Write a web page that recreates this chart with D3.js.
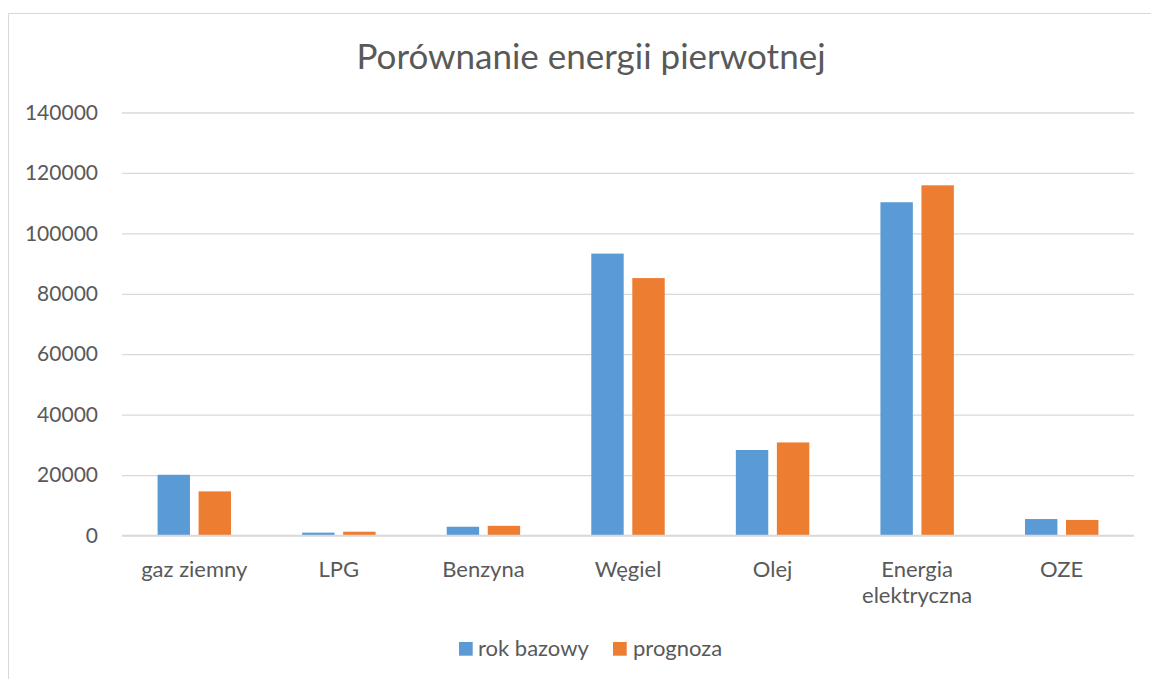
<!DOCTYPE html>
<html>
<head>
<meta charset="utf-8">
<script src="https://cdn.jsdelivr.net/npm/d3@7/dist/d3.min.js"></script>
<style>
  html, body { margin: 0; padding: 0; background: #fff; }
  svg { display: block; font-family: Lato, "Open Sans", sans-serif; }
</style>
</head>
<body>
<svg id="chart" width="1151" height="679"></svg>
<script>
// Primary energy use per carrier: base year vs. forecast
const categories = ["gaz ziemny", "LPG", "Benzyna", "Węgiel", "Olej", "Energia elektryczna", "OZE"];
const seriesNames = ["rok bazowy", "prognoza"];
const rokBazowy = [20100, 950, 2900, 93300, 28300, 110300, 5450];
const prognoza  = [14600, 1250, 3200, 85200, 30800, 115900, 5150];
const yTicks = [0, 20000, 40000, 60000, 80000, 100000, 120000, 140000];
const colors = ["#5B9BD5", "#ED7D31"];

const svg = d3.select("#chart");
const W = 1151, H = 679;
const textColor = "#595959";

// chart frame
svg.append("rect")
  .attr("x", 8.5).attr("y", 13.5)
  .attr("width", W + 20).attr("height", H + 20)
  .attr("fill", "#fff").attr("stroke", "#D9D9D9").attr("stroke-width", 1);

const plot = { left: 122, right: 1134, top: 112.5, bottom: 535.5 };

const y = d3.scaleLinear().domain([0, 140000]).range([plot.bottom, plot.top]);
const x0 = d3.scaleBand().domain(categories)
  .range([plot.left, plot.right]).paddingInner(0.492).paddingOuter(0.246);
const x1 = d3.scaleBand().domain(seriesNames)
  .range([0, x0.bandwidth()]).paddingInner(0.21).paddingOuter(0);

// gridlines
const yAxis = d3.axisLeft(y).tickValues(yTicks)
  .tickSize(-(plot.right - plot.left)).tickPadding(24).tickFormat(d3.format("d"));
const gy = svg.append("g").attr("transform", `translate(${plot.left},0)`).call(yAxis);
gy.select(".domain").remove();
gy.selectAll(".tick line").attr("stroke", "#D9D9D9").attr("stroke-width", 1.3);
gy.selectAll(".tick text")
  .attr("fill", textColor).style("font-size", "21px").style("font-family", "Lato, sans-serif");

// bars
const rows = categories.map((c, i) => ({ cat: c, vals: [rokBazowy[i], prognoza[i]] }));
const groups = svg.append("g").selectAll("g").data(rows).join("g")
  .attr("transform", d => `translate(${x0(d.cat)},0)`);
groups.selectAll("rect")
  .data(d => d.vals.map((v, j) => ({ name: seriesNames[j], v, j })))
  .join("rect")
  .attr("x", d => x1(d.name))
  .attr("width", x1.bandwidth())
  .attr("y", d => y(d.v))
  .attr("height", d => y(0) - y(d.v))
  .attr("fill", d => colors[d.j]);

// redraw the zero line above the bars
svg.append("line")
  .attr("x1", plot.left).attr("x2", plot.right)
  .attr("y1", y(0)).attr("y2", y(0))
  .attr("stroke", "#D9D9D9").attr("stroke-width", 1.3);

// category labels (wrapped on spaces for the long one)
const xAxis = d3.axisBottom(x0).tickSize(0).tickPadding(0);
const gx = svg.append("g").attr("transform", `translate(0,${plot.bottom})`).call(xAxis);
gx.select(".domain").remove();
gx.selectAll(".tick text").remove();
gx.selectAll(".tick").each(function (d) {
  const lines = d === "Energia elektryczna" ? ["Energia", "elektryczna"] : [d];
  const t = d3.select(this).append("text")
    .attr("text-anchor", "middle").attr("fill", textColor)
    .style("font-size", "22px").style("font-family", "Lato, sans-serif");
  lines.forEach((ln, k) => t.append("tspan").attr("x", 0).attr("y", 41 + k * 26).text(ln));
});

// title
svg.append("text")
  .attr("x", 591).attr("y", 69).attr("text-anchor", "middle")
  .attr("fill", textColor).style("font-size", "35px").style("font-family", "Lato, sans-serif")
  .text("Porównanie energii pierwotnej");

// legend
const legend = svg.append("g");
const legendItems = [{ x: 459, tx: 478 }, { x: 613, tx: 633 }];
seriesNames.forEach((s, i) => {
  legend.append("rect").attr("x", legendItems[i].x).attr("y", 642)
    .attr("width", 13.7).attr("height", 13.7).attr("fill", colors[i]);
  legend.append("text").attr("x", legendItems[i].tx).attr("y", 656)
    .attr("fill", textColor).style("font-size", "22px").style("font-family", "Lato, sans-serif")
    .text(s);
});
</script>
</body>
</html>
